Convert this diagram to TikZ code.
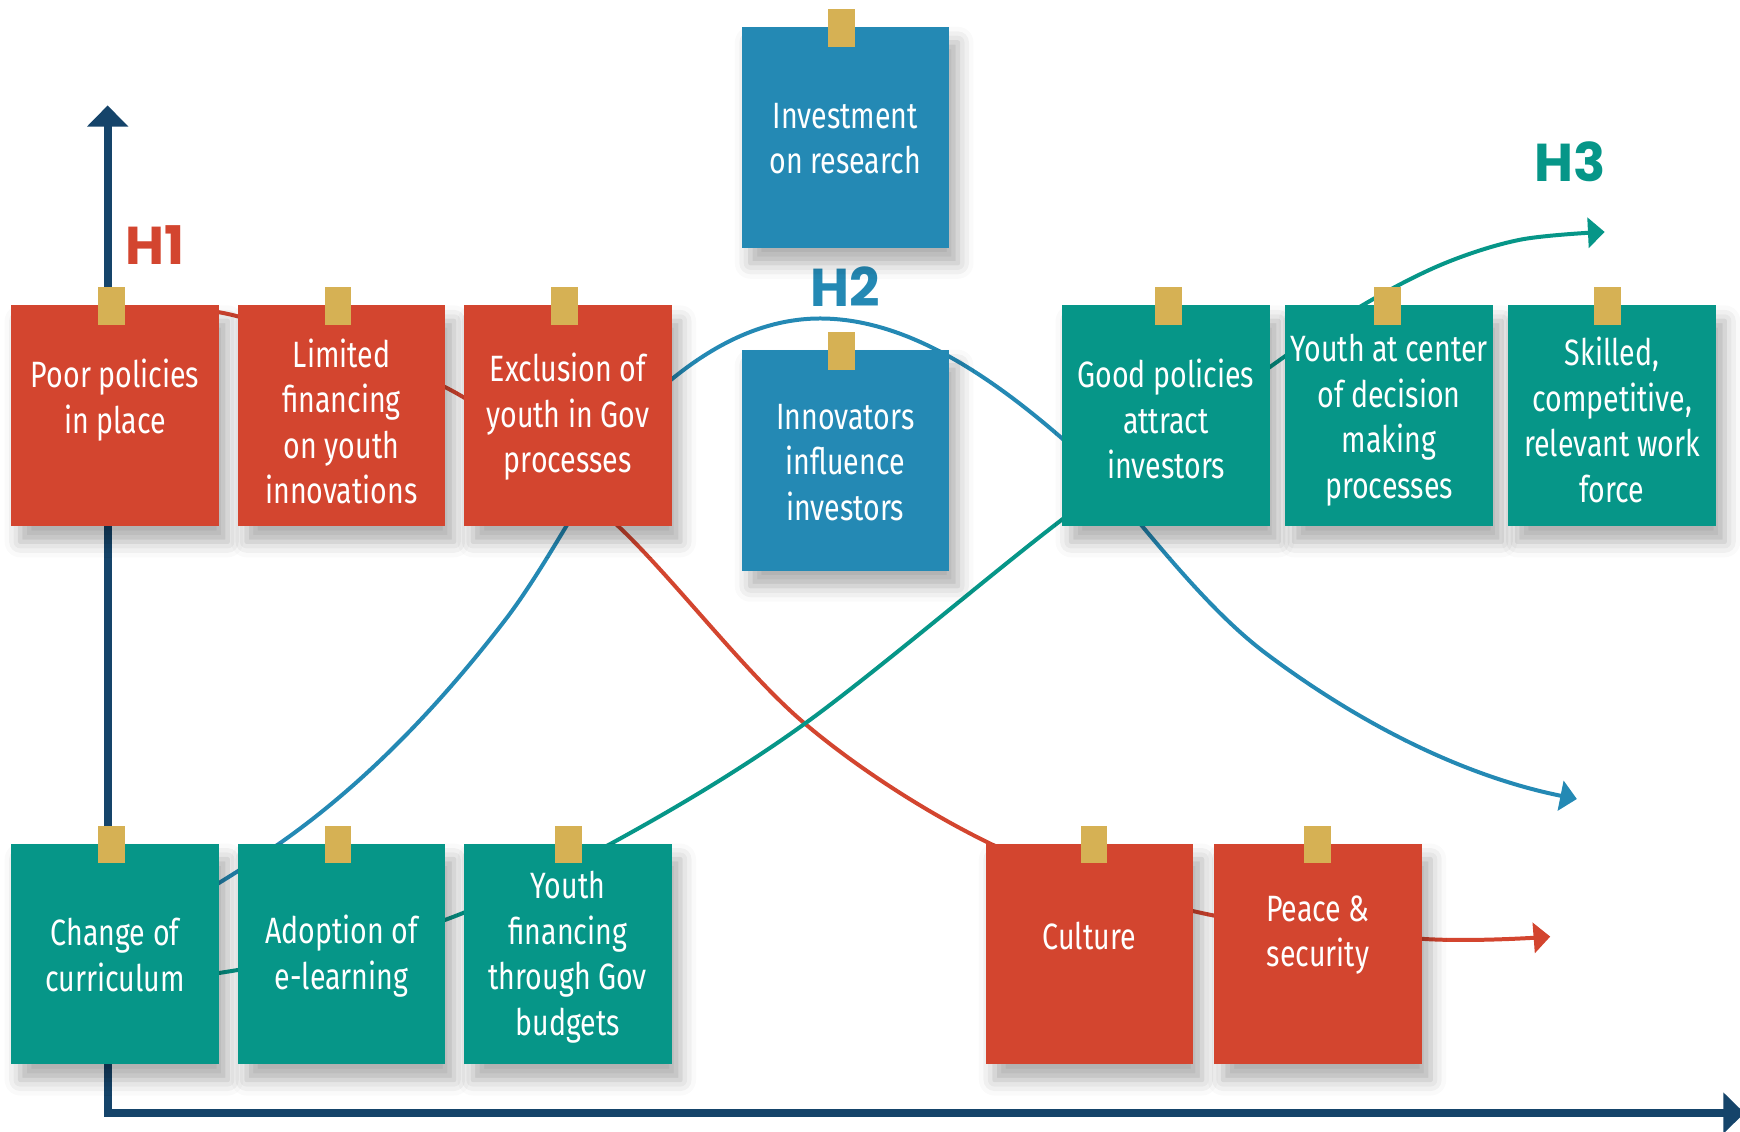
\documentclass[tikz,border=0pt]{standalone}
\usepackage{fontspec}
\newfontfamily\boxfont{Fira Sans}[FakeStretch=0.78]
\newfontfamily\hfont{Poppins}
\usetikzlibrary{arrows.meta,shadows.blur}
\definecolor{cred}{HTML}{D3452F}
\definecolor{cteal}{HTML}{069688}
\definecolor{cblue}{HTML}{2489B4}
\definecolor{ctab}{HTML}{D6B154}
\definecolor{cnavy}{HTML}{15446A}
\tikzset{
  card/.style={fill=#1, draw=none, minimum width=187pt, minimum height=199pt, inner sep=0pt, anchor=north west,
    blur shadow={shadow xshift=8pt, shadow yshift=-14pt, shadow blur radius=14pt, shadow opacity=32}},
  tabnode/.style={fill=ctab, draw=none, minimum width=24pt, minimum height=34pt, inner sep=0pt},
  cardtext/.style={text=white, align=center, font=\boxfont\fontsize{33}{41}\selectfont, inner sep=0pt},
  curve/.style={line width=3.6pt, -{Triangle[length=15pt,width=27pt]}},
  hlabel/.style={font=\hfont\bfseries\fontsize{48}{48}\selectfont, inner sep=0pt},
  axis/.style={draw=cnavy, line width=7.2pt, {Triangle[length=19pt,width=36pt]}-{Triangle[length=19pt,width=36pt]}},
}
\newcommand\mkcard[7]{%
  \node[card=#4] (#1) at (#2,#3) {};
  \node[tabnode] (#1tab) at ([xshift=#5pt,yshift=-1pt]#1.north) {};
  \node[cardtext] (#1txt) at ([yshift=#7pt]#1.center) {#6};
}
\begin{document}
\begin{tikzpicture}[x=1pt,y=-1pt]
\useasboundingbox (0,0) rectangle (1568,1020);
% axes
\coordinate (ytip) at (97,95);
\coordinate (xtip) at (1572,1003);
\draw[axis] (ytip) |- (xtip);
% curves
\draw[curve, color=cred] plot[smooth, tension=0.55] coordinates {(130,279) (214,285) (409,353) (558,475) (724,651) (896,762) (1084,823) (1281,846) (1397,844)};
\draw[curve, color=cblue] (130,836)
  .. controls (170.7,811.6) and (211.3,788.5) .. (252,760)
  .. controls (319.7,712.6) and (387.3,647) .. (455,559)
  .. controls (505,494) and (555,383) .. (605,342)
  .. controls (649.7,305.4) and (694.3,287) .. (739,287)
  .. controls (811.7,287) and (884.3,331.8) .. (957,395)
  .. controls (981.3,416.2) and (1005.7,445.8) .. (1030,475)
  .. controls (1067,519.4) and (1104,561.3) .. (1141,589)
  .. controls (1234.3,659) and (1327.7,701.3) .. (1421,720);
\draw[curve, color=cteal] plot[smooth, tension=0.55] coordinates {(130,882) (196,877) (300,857) (409,826) (551,760) (724,653) (956,469) (1151,326) (1228,275) (1300,238) (1370,216) (1446,209)};
% labels
\node[hlabel, text=cred] (h1) at (140,221) {H1};
\node[hlabel, text=cblue] (h2) at (762,258) {H2};
\node[hlabel, text=cteal] (h3) at (1415,146) {H3};
% cards
\mkcard{p1}{10}{275}{cred}{-3.5}{Poor policies\\in place}{14}
\mkcard{p2}{214}{275}{cred}{-3}{Limited\\financing\\on youth\\innovations}{-5}
\mkcard{p3}{418}{275}{cred}{-3}{Exclusion of\\youth in Gov\\processes}{-1}
\mkcard{ia}{668}{24}{cblue}{-3.5}{Investment\\on research}{-1}
\mkcard{ib}{668}{315}{cblue}{-3.5}{Innovators\\influence\\investors}{-2}
\mkcard{g1}{957}{275}{cteal}{2}{Good policies\\attract\\investors}{-3}
\mkcard{g2}{1158}{275}{cteal}{-1.5}{Youth at center\\of decision\\making\\processes}{-4}
\mkcard{g3}{1359}{275}{cteal}{-4}{Skilled,\\competitive,\\relevant work\\force}{-3.5}
\mkcard{c1}{10}{760}{cteal}{-3.5}{Change of\\curriculum}{-1}
\mkcard{c2}{214}{760}{cteal}{-3}{Adoption of\\e-learning}{-2}
\mkcard{c3}{418}{760}{cteal}{0.5}{Youth\\financing\\through Gov\\budgets}{-3}
\mkcard{r1}{888}{760}{cred}{4}{Culture}{16}
\mkcard{r2}{1094}{760}{cred}{-0.5}{Peace \&\\security}{17}
\end{tikzpicture}
\end{document}
